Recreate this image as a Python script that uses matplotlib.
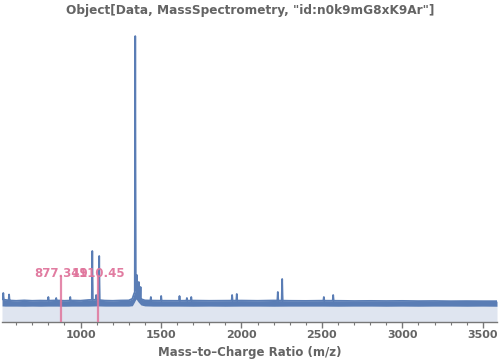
import numpy as np
import matplotlib
matplotlib.use("Agg")
import matplotlib.pyplot as plt

# ---- data (arbitrary intensity units) ----
env_mz   = [512, 530, 560, 600, 650, 700, 750, 800, 850, 900, 950, 1000, 1050, 1100,
            1150, 1200, 1250, 1300, 1322, 1332, 1345, 1358, 1375, 1400, 1450, 1500,
            1600, 1700, 1800, 1900, 2000, 2100, 2200, 2300, 2400, 2500, 2600, 2700,
            2800, 2900, 3000, 3100, 3200, 3300, 3400, 3500, 3588]
env_high = [228, 222, 215, 212, 216, 212, 214, 213, 216, 212, 215, 213, 220, 222,
            214, 212, 215, 216, 232, 280, 330, 270, 230, 216, 214, 213,
            212, 214, 212, 213, 214, 212, 215, 212, 211, 213, 212, 210,
            211, 210, 211, 209, 210, 208, 209, 208, 208]
env_low  = [160, 158, 158, 158, 157, 158, 157, 158, 158, 157, 158, 158, 158, 160,
            158, 158, 158, 158, 162, 190, 230, 200, 170, 160, 158, 158,
            158, 157, 158, 157, 158, 158, 157, 158, 158, 158, 157, 158,
            158, 157, 158, 157, 158, 158, 157, 158, 157]

peak_mz  = [520, 556, 800, 849, 936, 1073, 1097, 1116, 1340, 1350, 1362, 1373,
            1437, 1501, 1615, 1661, 1688, 1942, 1971, 2226, 2253, 2512, 2570]
peak_int = [290, 275, 250, 240, 250, 710, 270, 660, 2860, 470, 400, 350,
            250, 260, 260, 240, 250, 270, 280, 300, 430, 250, 270]

label_mz  = [877.349, 1110.45]
label_txt = ["877.349", "1110.45"]
label_int = 450

title = 'Object[Data, MassSpectrometry, "id:n0k9mG8xK9Ar"]'
xlabel = "Mass\u2013to\u2013Charge Ratio (m/z)"
xticks = [1000, 1500, 2000, 2500, 3000, 3500]

line_c = "#5a7db5"
fill_c = "#dfe5f0"
pink = "#e0759c"
gray = "#646464"

# ---- build the spectrum curve from envelope + peaks ----
pts = set(env_mz)
w = 3.0
for m in peak_mz:
    pts.update([m - w, m, m + w])
x = np.array(sorted(pts), dtype=float)
hi = np.interp(x, env_mz, env_high)
lo = np.interp(x, env_mz, env_low)
for m, h in zip(peak_mz, peak_int):
    idx = np.where(x == m)[0][0]
    hi[idx] = max(hi[idx], h)

fig = plt.figure(figsize=(5.0, 3.63), dpi=100)
ax = fig.add_axes([0.004, 0.113, 0.99, 0.804])

ax.fill_between(x, 0, lo, color=fill_c, lw=0, zorder=1)
ax.fill_between(x, lo, hi, color=line_c, lw=0, zorder=2)
ax.plot(x, hi, color=line_c, lw=1.3, zorder=3)

for m, t in zip(label_mz, label_txt):
    ax.plot([m, m], [0, label_int], color=pink, lw=1.6, alpha=0.85, zorder=4)
    ax.text(m, label_int - 30, t, color=pink, ha="center", va="bottom",
            fontsize=8.5, fontweight="bold", alpha=0.95, zorder=5)

ax.set_xlim(512, 3588)
ax.set_ylim(0, 2920)
ax.set_yticks([])
for s in ["top", "right", "left"]:
    ax.spines[s].set_visible(False)
ax.spines["bottom"].set_color("#777777")
ax.spines["bottom"].set_linewidth(1.0)
ax.set_xticks(xticks)
ax.set_xticks(np.arange(600, 3600, 100), minor=True)
ax.tick_params(axis="x", which="major", length=4, width=1, color="#777777",
               labelsize=8, labelcolor=gray, pad=2)
ax.tick_params(axis="x", which="minor", length=2, width=0.8, color="#777777")
for lbl in ax.get_xticklabels():
    lbl.set_fontweight("bold")

ax.set_xlabel(xlabel, fontsize=8.5, fontweight="bold", color=gray, labelpad=4)
fig.text(0.5, 0.972, title, ha="center", va="center", fontsize=8.7,
         fontweight="bold", color=gray)

fig.savefig("out.png", dpi=100)
